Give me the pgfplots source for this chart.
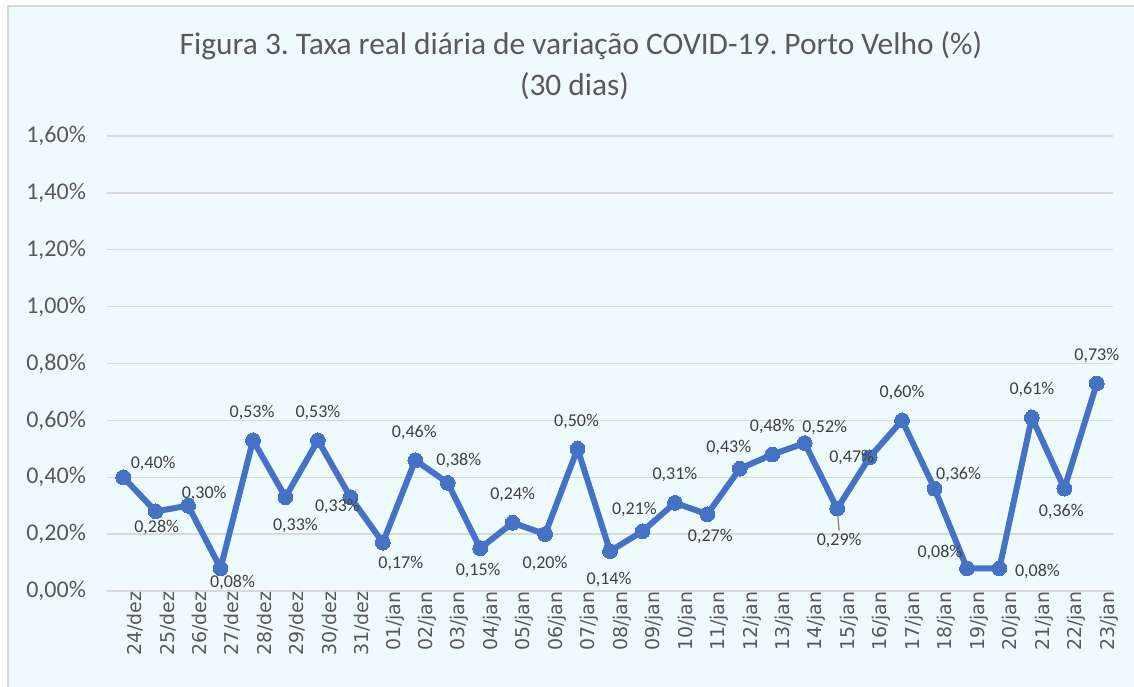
\documentclass[border=0pt]{standalone}
\usepackage{pgfplots}
\pgfplotsset{compat=1.18}
\usepackage{pgfplotstable}
\usepackage{fontspec}
\setmainfont{Carlito}
\newfontfamily\dejavu{DejaVu Sans}
\frenchspacing
\definecolor{serie}{HTML}{4472C4}
\definecolor{fundo}{HTML}{EFFAFC}
\definecolor{grade}{HTML}{D9D9D9}
\definecolor{texto}{HTML}{595959}
\definecolor{rotulo}{HTML}{404040}

% x, valor, deslocamento do rotulo (pt)
\pgfplotstableread{
x  y     dx    dy
0  0.40  15    7
1  0.28  0.5   -8
2  0.30  8     6
3  0.08  6     -7
4  0.53  -0.5  14
5  0.33  5     -14
6  0.53  0     14
7  0.33  -6.5  -4.5
8  0.17  9     -10.5
9  0.46  -0.5  14
10 0.38  5.5   11
11 0.15  -1    -11
12 0.24  0     14
13 0.20  0     -14.5
14 0.50  -0.5  13.5
15 0.14  -0.5  -14
16 0.21  -4    11
17 0.31  0     14
18 0.27  1.5   -11
19 0.43  -5.5  10.5
20 0.48  0     14
21 0.52  10    8
22 0.29  1     -16
23 0.47  -9    0
24 0.60  0     14
25 0.36  12    7
26 0.08  -13.5 8
27 0.08  19    -1.5
28 0.61  0     14
29 0.36  -1.5  -11.5
30 0.73  0     14
}\dados

\begin{document}
\begin{tikzpicture}
\fill[white] (-53.5pt,-47.5pt) rectangle (513.5pt,295.5pt);
\useasboundingbox (-53.5pt,-47.5pt) rectangle (513.5pt,295.5pt);
\filldraw[fill=fundo, draw=grade, line width=1pt] (-49.5pt,-60pt) rectangle (530pt,292.5pt);
\begin{axis}[
    scale only axis,
    width=503pt,
    height=227.5pt,
    xmin=-0.5, xmax=30.5,
    ymin=0, ymax=1.6,
    ytick={0,0.2,...,1.6},
    xtick={0,...,30},
    xticklabels={24/dez,25/dez,26/dez,27/dez,28/dez,29/dez,30/dez,31/dez,
        01/jan,02/jan,03/jan,04/jan,05/jan,06/jan,07/jan,08/jan,09/jan,10/jan,
        11/jan,12/jan,13/jan,14/jan,15/jan,16/jan,17/jan,18/jan,19/jan,20/jan,
        21/jan,22/jan,23/jan},
    /pgf/number format/assume math mode=true,
    yticklabel={\pgfmathprintnumber[fixed,fixed zerofill,precision=2,use comma]{\tick}\%},
    yticklabel style={font=\fontsize{12}{14}\selectfont, text=texto, anchor=east, xshift=-7pt},
    xticklabel style={font=\dejavu\fontsize{9.5}{10}\selectfont, text=texto, rotate=90, anchor=east, inner sep=0pt, yshift=-6pt},
    axis line style={draw=none},
    tick style={draw=none},
    ymajorgrids=true,
    grid style={grade, line width=0.75pt},
    clip=false,
]
\addplot[serie, line width=3pt, mark=*, mark size=3.7pt, mark options={fill=serie, draw=serie, line width=0pt}]
    table[x=x, y=y] {\dados};
\draw[gray, line width=0.6pt] (axis cs:22,0.29) -- ++(1pt,-11pt);
\addplot[draw=none, mark=none,
    point meta=explicit,
    visualization depends on={\thisrow{dx} \as \dx},
    visualization depends on={\thisrow{dy} \as \dy},
    nodes near coords={\pgfmathprintnumber[fixed,fixed zerofill,precision=2,use comma]{\pgfplotspointmeta}\%},
    nodes near coords style={font=\fontsize{9}{10}\selectfont, text=rotulo, anchor=center, xshift=\dx pt, yshift=\dy pt, inner sep=0pt},
    ] table[x=x, y=y, meta=y] {\dados};
\end{axis}
\node[font=\fontsize{15.7}{18}\selectfont, text=texto] at (237pt,272.5pt) {Figura 3. Taxa real diária de variação COVID-19. Porto Velho (\%)};
\node[font=\fontsize{15.7}{18}\selectfont, text=texto] at (233.75pt,252.5pt) {(30 dias)};
\end{tikzpicture}
\end{document}
